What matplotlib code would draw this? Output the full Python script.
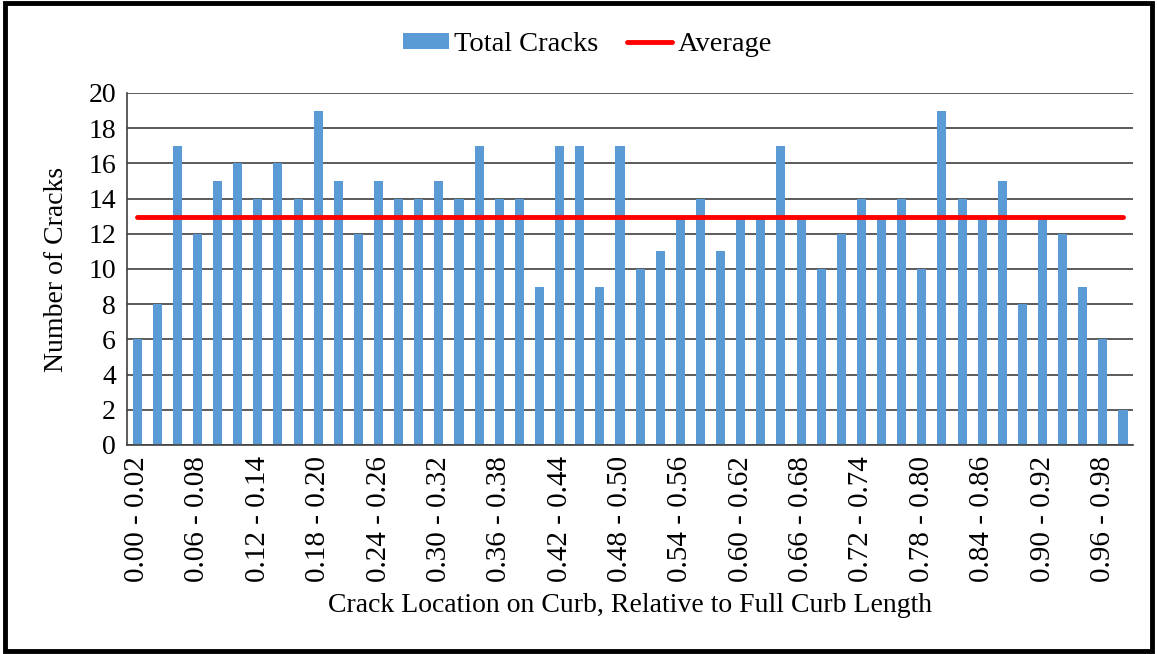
import matplotlib
matplotlib.use("Agg")
import matplotlib.pyplot as plt
from matplotlib.patches import Rectangle

# bin edges as labels, 0.00-0.02 ... 0.98-1.00
categories = [f"{i * 0.02:.2f} - {(i + 1) * 0.02:.2f}" for i in range(50)]
total_cracks = [6, 8, 17, 12, 15, 16, 14, 16, 14, 19,
                15, 12, 15, 14, 14, 15, 14, 17, 14, 14,
                9, 17, 17, 9, 17, 10, 11, 13, 14, 11,
                13, 13, 17, 13, 10, 12, 14, 13, 14, 10,
                19, 14, 13, 15, 8, 13, 12, 9, 6, 2]
average = sum(total_cracks) / len(total_cracks)
y_ticks = list(range(0, 21, 2))

plt.rcParams["font.family"] = ["Liberation Serif", "DejaVu Serif"]

fig = plt.figure(figsize=(11.57, 6.54), dpi=100)
ax = fig.add_axes([0.1098, 0.3196, 0.8695, 0.5382])

x = list(range(len(categories)))
bars = ax.bar(x, total_cracks, width=0.45, color="#5b9bd5", label="Total Cracks", zorder=2)
(avg_line,) = ax.plot([x[0], x[-1]], [average, average], color="#ff0000", lw=3.5,
                      solid_capstyle="round", label="Average", zorder=3)

ax.set_xlim(-0.5, len(categories) - 0.5)
ax.set_ylim(0, 20)
ax.set_yticks(y_ticks)
ax.set_xticks(x[::3])
ax.set_xticklabels(categories[::3], rotation=90)
ax.tick_params(axis="both", length=0)
ax.tick_params(axis="y", pad=8, labelsize=20)
ax.tick_params(axis="x", pad=8, labelsize=21)
ax.yaxis.grid(True, color="#404040", lw=1.2, zorder=0)
ax.set_axisbelow(True)
for s in ["top", "right"]:
    ax.spines[s].set_visible(False)
for s in ["left", "bottom"]:
    ax.spines[s].set_color("#404040")
    ax.spines[s].set_linewidth(1.2)

ax.set_ylabel("Number of Cracks", fontsize=20, labelpad=14)
ax.set_xlabel("Crack Location on Curb, Relative to Full Curb Length", fontsize=20, labelpad=8)

fig.legend(handles=[bars, avg_line], loc="center", bbox_to_anchor=(0.508, 0.932), ncol=2,
           frameon=False, fontsize=20.5, handlelength=1.6, handleheight=0.5,
           handletextpad=0.2, columnspacing=1.0)

fig.patches.append(Rectangle((0.004, 0.004), 0.992, 0.992, transform=fig.transFigure,
                             fill=False, edgecolor="black", lw=3.5))

fig.savefig("out.png", dpi=100)
